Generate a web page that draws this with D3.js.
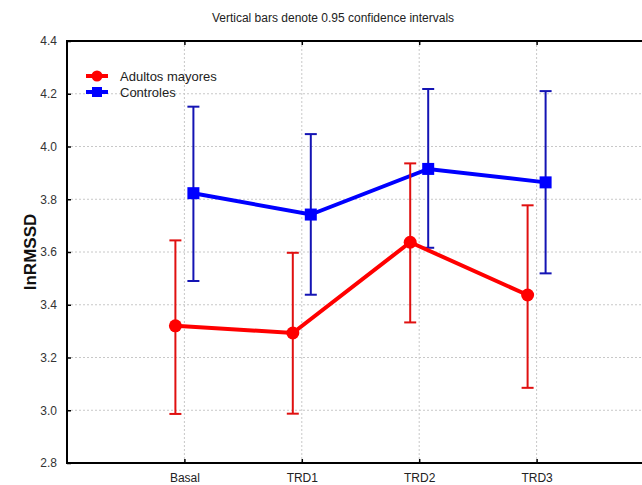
<!DOCTYPE html>
<html>
<head>
<meta charset="utf-8">
<script src="https://cdn.jsdelivr.net/npm/d3@7"></script>
<style>
  body { margin: 0; background: #fff; }
  svg { display: block; font-family: "Liberation Sans", Arial, sans-serif; }
</style>
</head>
<body>
<div id="chart"></div>
<script>
var
  width = 642,
  height = 485;

// data
var categorias = ["Basal", "TRD1", "TRD2", "TRD3"];
var adultosMedia = [3.32, 3.293, 3.637, 3.437];
var adultosLow   = [2.986, 2.987, 3.333, 3.085];
var adultosHigh  = [3.644, 3.597, 3.936, 3.777];
var controlesMedia = [3.823, 3.742, 3.915, 3.864];
var controlesLow   = [3.49, 3.438, 3.616, 3.519];
var controlesHigh  = [4.151, 4.047, 4.218, 4.21];
var yTicks = [2.8, 3.0, 3.2, 3.4, 3.6, 3.8, 4.0, 4.2, 4.4];

var plotL = 67, plotR = 654, plotT = 41, plotB = 463;

var svg = d3.select("#chart")
  .append("svg")
  .attr("width", width)
  .attr("height", height);

var x = d3.scaleLinear().domain([0, 5]).range([plotL, plotR]);
var y = d3.scaleLinear().domain([2.8, 4.4]).range([plotB, plotT]);

// title
svg.append("text")
  .attr("x", 333).attr("y", 22)
  .attr("text-anchor", "middle")
  .attr("font-size", 12)
  .attr("fill", "#222")
  .text("Vertical bars denote 0.95 confidence intervals");

// grid
svg.append("g").selectAll("line")
  .data(yTicks.slice(1, -1))
  .enter().append("line")
  .attr("x1", plotL).attr("x2", plotR)
  .attr("y1", function(d) { return y(d); })
  .attr("y2", function(d) { return y(d); })
  .attr("stroke", "#c8c8c8")
  .attr("stroke-dasharray", "2,2");

svg.append("g").selectAll("line")
  .data(categorias)
  .enter().append("line")
  .attr("x1", function(d, i) { return x(i + 1); })
  .attr("x2", function(d, i) { return x(i + 1); })
  .attr("y1", plotT).attr("y2", plotB)
  .attr("stroke", "#c8c8c8")
  .attr("stroke-dasharray", "2,2");

// axes
var yAxis = d3.axisLeft(y).tickValues(yTicks).tickFormat(d3.format(".1f")).tickSizeInner(-4).tickSizeOuter(0).tickPadding(10);
var gy = svg.append("g").attr("transform", "translate(" + plotL + ",0)").call(yAxis);
gy.select(".domain").remove();
gy.selectAll("line").attr("stroke", "#000").attr("stroke-width", 1.5);
gy.selectAll("text").attr("font-size", 12).attr("fill", "#333").attr("font-family", "Liberation Sans, Arial, sans-serif");

var xAxis = d3.axisBottom(x).tickValues([1, 2, 3, 4])
  .tickFormat(function(d) { return categorias[d - 1]; })
  .tickSizeInner(-4).tickSizeOuter(0).tickPadding(10);
var gx = svg.append("g").attr("transform", "translate(0," + plotB + ")").call(xAxis);
gx.select(".domain").remove();
gx.selectAll("line").attr("stroke", "#000").attr("stroke-width", 1.5);
gx.selectAll("text").attr("font-size", 12).attr("fill", "#222").attr("font-family", "Liberation Sans, Arial, sans-serif");

var xTop = d3.axisTop(x).tickValues([1, 2, 3, 4]).tickFormat("").tickSizeInner(-4).tickSizeOuter(0);
var gt = svg.append("g").attr("transform", "translate(0," + plotT + ")").call(xTop);
gt.select(".domain").remove();
gt.selectAll("line").attr("stroke", "#000").attr("stroke-width", 1.5);

// frame
svg.append("rect")
  .attr("x", plotL).attr("y", plotT)
  .attr("width", plotR - plotL).attr("height", plotB - plotT)
  .attr("fill", "none")
  .attr("stroke", "#000")
  .attr("stroke-width", 2);

// y label
svg.append("text")
  .attr("transform", "translate(36," + ((plotT + plotB) / 2) + ") rotate(-90)")
  .attr("text-anchor", "middle")
  .attr("font-size", 17)
  .attr("font-weight", "bold")
  .attr("fill", "#111")
  .text("lnRMSSD");

function serie(media, low, high, offset, lineColor, barColor, simbolo) {
  var g = svg.append("g");
  var px = function(d, i) { return x(i + 1) + offset; };

  // error bars
  var eb = g.selectAll(".eb").data(media).enter().append("g");
  eb.append("line")
    .attr("x1", px).attr("x2", px)
    .attr("y1", function(d, i) { return y(low[i]); })
    .attr("y2", function(d, i) { return y(high[i]); })
    .attr("stroke", barColor).attr("stroke-width", 2);
  eb.append("line")
    .attr("x1", function(d, i) { return px(d, i) - 6; })
    .attr("x2", function(d, i) { return px(d, i) + 6; })
    .attr("y1", function(d, i) { return y(low[i]); })
    .attr("y2", function(d, i) { return y(low[i]); })
    .attr("stroke", barColor).attr("stroke-width", 2);
  eb.append("line")
    .attr("x1", function(d, i) { return px(d, i) - 6; })
    .attr("x2", function(d, i) { return px(d, i) + 6; })
    .attr("y1", function(d, i) { return y(high[i]); })
    .attr("y2", function(d, i) { return y(high[i]); })
    .attr("stroke", barColor).attr("stroke-width", 2);

  // line
  var line = d3.line().x(px).y(function(d) { return y(d); });
  g.append("path")
    .datum(media)
    .attr("d", line)
    .attr("fill", "none")
    .attr("stroke", lineColor)
    .attr("stroke-width", 4);

  // markers
  if (simbolo === "circle") {
    g.selectAll(".m").data(media).enter().append("circle")
      .attr("cx", px).attr("cy", function(d) { return y(d); })
      .attr("r", 6.5).attr("fill", lineColor);
  } else {
    g.selectAll(".m").data(media).enter().append("rect")
      .attr("x", function(d, i) { return px(d, i) - 6; })
      .attr("y", function(d) { return y(d) - 6; })
      .attr("width", 12).attr("height", 12)
      .attr("fill", lineColor);
  }
}

serie(controlesMedia, controlesLow, controlesHigh, 9, "#0000ff", "#1414b4", "square");
serie(adultosMedia, adultosLow, adultosHigh, -9, "#ff0000", "#e01010", "circle");

// legend
var legenda = [
  { nome: "Adultos mayores", cor: "#ff0000", simbolo: "circle" },
  { nome: "Controles", cor: "#0000ff", simbolo: "square" }
];
var lg = svg.append("g").selectAll("g")
  .data(legenda)
  .enter().append("g")
  .attr("transform", function(d, i) { return "translate(0," + (76 + i * 16) + ")"; });
lg.append("line")
  .attr("x1", 86).attr("x2", 108)
  .attr("stroke", function(d) { return d.cor; })
  .attr("stroke-width", 4);
lg.each(function(d) {
  var s = d3.select(this);
  if (d.simbolo === "circle") {
    s.append("circle").attr("cx", 97).attr("cy", 0).attr("r", 5.5).attr("fill", d.cor);
  } else {
    s.append("rect").attr("x", 92).attr("y", -5).attr("width", 10).attr("height", 10).attr("fill", d.cor);
  }
});
lg.append("text")
  .attr("x", 120).attr("y", 4.5)
  .attr("font-size", 13)
  .attr("fill", "#222")
  .text(function(d) { return d.nome; });
</script>
</body>
</html>
